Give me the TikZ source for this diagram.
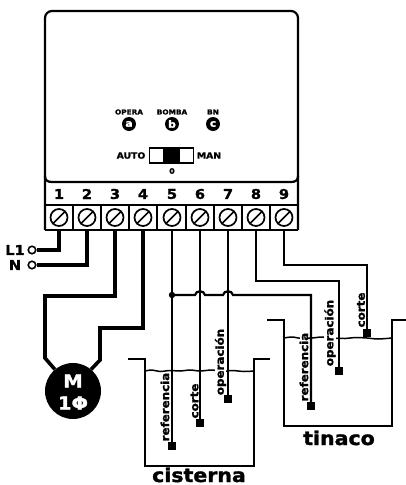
\documentclass[tikz,border=0pt]{standalone}
\usepackage{fontspec}
\setmainfont{DejaVu Sans}
\newfontfamily\blk{DejaVu Sans Bold}[FakeBold=1.5,FakeStretch=1.08]
\newcommand{\bsz}[1]{\blk\fontsize{#1}{#1}\selectfont}
\begin{document}
\begin{tikzpicture}[x=1pt,y=-1pt,
  box/.style={line width=2.2pt,draw=black},
  screw/.style={circle,draw=black,line width=1.7pt,minimum size=17pt,inner sep=0pt},
  led/.style={circle,fill=black,minimum size=14pt,inner sep=0pt,text=white,font=\bsz{10}},
  num/.style={font=\bsz{13.5}},
  tiny/.style={font=\bsz{6.8}},
  swlab/.style={font=\bsz{8.6}},
  heavy/.style={line width=3.6pt,draw=black,line join=miter},
  thinw/.style={line width=2.2pt,draw=black,line join=miter},
  tank/.style={line width=2pt,draw=black},
  probe/.style={rectangle,fill=black,minimum size=7.5pt,inner sep=0pt},
  term/.style={circle,draw=black,line width=1.6pt,fill=white,minimum size=7.5pt,inner sep=0pt},
  plab/.style={rotate=90,inner sep=0pt,font=\bsz{11}},
  tlab/.style={inner sep=0pt,anchor=base,font=\bsz{19}},
  pow/.style={text=white,inner sep=0pt,font=\bsz{18}},
  lin/.style={inner sep=0pt,font=\bsz{13.5}}]
\useasboundingbox (0,0) rectangle (406,485);
% housing
\draw[box,rounded corners=7pt] (45,230) -- (45,11) -- (298,11) -- (298,230);
\draw[box] (45,230) -- (298,230);
\draw[box] (45,176) .. controls (45,180) and (47,182) .. (52,182) -- (291,182) .. controls (296,182) and (298,180) .. (298,176);
\draw[box] (45,205) -- (298,205);
\foreach \i/\x in {1/59,2/87,3/115,4/143,5/172,6/200,7/228,8/256,9/284}{
  \node[num] at (\x,194) {\i};
  \node[screw] (s\i) at (\x,217.5) {};
  \draw[line width=1.7pt] (s\i.225) -- (s\i.45);
  \coordinate (t\i) at (\x,230);
}
\foreach \x in {73,101,129,157,186,214,242,270}{\draw[line width=1.3pt] (\x,205) -- (\x,230);}
% LEDs
\node[led] (a) at (129,124) {a};
\node[led] (b) at (172,124) {b};
\node[led] (c) at (213,124) {c};
\node[tiny] at (129,112) {OPERA};
\node[tiny] at (172,112) {BOMBA};
\node[tiny] at (213,112) {BN};
% switch
\draw[line width=1.7pt,fill=white] (149.5,148) rectangle (193.5,163);
\fill (163,148) rectangle (180,163);
\node[swlab] at (131,155.5) {AUTO};
\node[swlab] at (209,155.5) {MAN};
\node[font=\bsz{7.5}] at (172,171) {0};
% power
\node[term] (L) at (32,250) {};
\node[term] (N) at (32,265) {};
\node[lin] at (15,250) {L1};
\node[lin] at (15,265) {N};
\draw[heavy] (t1) |- (L);
\draw[heavy] (t2) |- (N);
% motor
\node[circle,fill=black,minimum size=56pt,inner sep=0pt] (m) at (73,391) {};
\node[pow] at (73,381) {M};
\node[pow] at (73,403) {1Φ};
\draw[heavy] (t3) -- (115,296) -- (45,296) -- (45,358) -- (m.130);
\draw[heavy] (t4) -- (143,328) -- (100,328) -- (100,360) -- (m.50);
% probes
\node[probe] (p5) at (172,446) {};
\node[probe] (p6) at (200,423) {};
\node[probe] (p7) at (228,399) {};
\node[probe] (p8) at (339,371) {};
\node[probe] (p9) at (367,333) {};
\node[probe] (pr) at (311,406) {};
\draw[thinw] (t5) -- (p5);
\draw[thinw] (t6) -- (p6);
\draw[thinw] (t7) -- (p7);
\draw[thinw] (t8) |- (339,281) -- (p8);
\draw[thinw] (t9) |- (367,265) -- (p9);
\fill (172,295) circle (3.2pt);
\draw[thinw] (172,295) -- (195,295) .. controls (196,290) and (204,290) .. (205,295) -- (223,295) .. controls (224,290) and (232,290) .. (233,295) -- (311,295) -- (pr);
% tanks
\draw[tank] (128,359) -- (145,359) -- (145,466) -- (254,466) -- (254,359) -- (270,359);
\draw[tank] (267,320) -- (284,320) -- (284,426) -- (392,426) -- (392,320) -- (406,320);
\draw[line width=1.5pt] plot[smooth] coordinates {(145,371) (152,370) (160,371.5) (170,370.5) (180,371) (190,370) (200,371) (212,370) (222,371.5) (232,370.5) (244,371.5) (254,371)};
\draw[line width=1.5pt] plot[smooth] coordinates {(284,338) (292,337) (302,338.5) (312,338) (322,337) (332,338) (345,338.5) (355,337.5) (367,338) (378,339) (392,338)};
% labels
\node[plab,fill=white] at (165,407) {referencia};
\node[plab,fill=white] at (194.5,401) {corte};
\node[plab,fill=white] at (220.5,362) {operación};
\node[plab,fill=white] at (304,367) {referencia};
\node[plab,fill=white] at (330,333) {operación};
\node[plab] at (361,310) {corte};
\node[tlab] at (339,445) {tinaco};
\node[tlab] at (199,482) {cisterna};
\end{tikzpicture}
\end{document}
